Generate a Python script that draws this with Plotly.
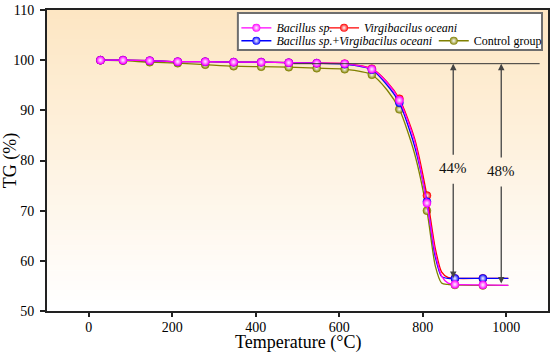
import plotly.graph_objects as go

# ---------------- data ----------------
curve_T = [28, 82, 146, 213, 279, 347, 413, 479, 546, 613, 678, 715, 744, 780, 810,
           830, 845, 860, 877, 944, 1005]
marker_T = [28, 82, 146, 213, 279, 347, 413, 479, 546, 613, 678, 744, 810, 877, 944]

bacillus = [100.0, 100.0, 99.9, 99.7, 99.7, 99.6, 99.6, 99.5, 99.4, 99.3, 98.2, 95.5, 92.0,
            84.0, 71.5, 61.5, 57.0, 55.6, 55.3, 55.2, 55.1]
virgi = [100.0, 100.0, 99.9, 99.7, 99.7, 99.6, 99.6, 99.5, 99.4, 99.3, 98.3, 95.6, 92.3,
         84.5, 73.0, 62.5, 57.8, 56.7, 56.5, 56.5, 56.5]
combo = [100.0, 100.0, 99.9, 99.7, 99.7, 99.6, 99.6, 99.5, 99.4, 99.2, 98.1, 95.0, 91.5,
         83.0, 71.8, 60.8, 56.9, 56.5, 56.5, 56.5, 56.5]
control = [100.0, 99.9, 99.6, 99.4, 99.1, 98.8, 98.7, 98.6, 98.4, 98.2, 97.1, 94.0, 90.2,
           81.5, 70.0, 59.0, 55.6, 55.3, 55.2, 55.1, 55.1]

series_names = ["<i>Bacillus sp.</i>", "<i>Virgibacilus oceani</i>",
                "<i>Bacillus sp.</i>+<i>Virgibacilus oceani</i>", "Control group"]
series_colors = ["#FF00FF", "#FF0000", "#0000FF", "#808000"]
series_values = [bacillus, virgi, combo, control]

ref_level = 99.3
loss_labels = ["44%", "48%"]
loss_T = [873, 988]
loss_bottom = [56.6, 55.5]

x_ticks = [0, 200, 400, 600, 800, 1000]
y_ticks = [50, 60, 70, 80, 90, 100, 110]
x_title = "Temperature (°C)"
y_title = "TG (%)"

FONT = "Liberation Serif"

fig = go.Figure()

# background gradient (top light orange -> white)
n = 60
top_c = (253, 230, 195)
for i in range(n):
    f = i / (n - 1)
    c = tuple(int(round(top_c[k] + (255 - top_c[k]) * f)) for k in range(3))
    fig.add_shape(type="rect", xref="x domain", yref="y domain",
                  x0=0, x1=1, y0=1 - (i + 1) / n, y1=1 - i / n + 0.002,
                  fillcolor="rgb(%d,%d,%d)" % c, line_width=0, layer="below")

idx = [curve_T.index(t) for t in marker_T]
draw_order = [3, 1, 2, 0]
legend_ids = ["legend", "legend2", "legend3", "legend4"]
for i in draw_order:
    ys = series_values[i]
    col = series_colors[i]
    fig.add_trace(go.Scatter(
        x=curve_T, y=ys, mode="lines", line=dict(color=col, width=1.3, shape="spline", smoothing=0.7),
        showlegend=False, hoverinfo="skip"))
    fig.add_trace(go.Scatter(
        x=marker_T, y=[ys[j] for j in idx], mode="markers",
        marker=dict(color=col, size=8, line=dict(color=col, width=0.5),
                    gradient=dict(type="radial", color="rgba(255,255,255,0.95)")),
        showlegend=False))
for i in range(4):
    col = series_colors[i]
    fig.add_trace(go.Scatter(
        x=[None], y=[None], mode="lines+markers", name=series_names[i],
        line=dict(color=col, width=1.3),
        marker=dict(color=col, size=8, gradient=dict(type="radial", color="rgba(255,255,255,0.95)")),
        legend=legend_ids[i]))

# reference horizontal line
fig.add_shape(type="line", x0=490, x1=1080, y0=ref_level, y1=ref_level,
              line=dict(color="#333333", width=1))

# arrows with labels
for lab, t, yb in zip(loss_labels, loss_T, loss_bottom):
    mid = (ref_level + yb) / 2 + 0.5
    fig.add_annotation(x=t, y=ref_level, ax=t, ay=mid + 2.4, xref="x", yref="y",
                       axref="x", ayref="y", text="", showarrow=True, arrowhead=2,
                       arrowsize=1, arrowwidth=1.3, arrowcolor="#444444")
    fig.add_annotation(x=t, y=yb, ax=t, ay=mid - 2.8, xref="x", yref="y",
                       axref="x", ayref="y", text="", showarrow=True, arrowhead=2,
                       arrowsize=1, arrowwidth=1.3, arrowcolor="#444444")
    fig.add_annotation(x=t, y=mid, text=lab, showarrow=False,
                       font=dict(family=FONT, size=15, color="#111111"))

# x axis title
fig.add_annotation(text=x_title, xref="x domain", yref="y domain", x=0.5, y=0,
                   yanchor="middle", yshift=-31, showarrow=False,
                   font=dict(family=FONT, size=18, color="black"))

# legend box
fig.add_shape(type="rect", xref="paper", yref="paper", x0=0.381, x1=0.988, y0=0.867, y1=0.990,
              fillcolor="white", line=dict(color="#6e6e6e", width=2), layer="above")

leg_common = dict(orientation="h", bgcolor="rgba(0,0,0,0)", borderwidth=0,
                  font=dict(family=FONT, size=12, color="black"), xanchor="left",
                  yanchor="top", itemwidth=30, tracegroupgap=0)
fig.update_layout(
    width=550, height=360,
    margin=dict(l=47, r=2, t=10, b=49, autoexpand=False),
    paper_bgcolor="white", plot_bgcolor="white",
    legend=dict(x=0.378, y=0.989, **leg_common),
    legend2=dict(x=0.553, y=0.989, **leg_common),
    legend3=dict(x=0.378, y=0.946, **leg_common),
    legend4=dict(x=0.772, y=0.946, **leg_common),
    font=dict(family=FONT, color="black"),
)
fig.update_xaxes(range=[-100, 1100], tickvals=x_ticks, ticks="outside", ticklen=4, tickwidth=1.5,
                 tickcolor="#222", showline=True, linewidth=2, linecolor="#222", mirror=True,
                 showgrid=False, zeroline=False, tickfont=dict(family=FONT, size=14),
                 automargin=False, ticklabelstandoff=-2)
fig.update_yaxes(range=[50, 110], tickvals=y_ticks, ticks="outside", ticklen=5, tickwidth=1.5,
                 tickcolor="#222", showline=True, linewidth=2, linecolor="#222", mirror=True,
                 showgrid=False, zeroline=False, tickfont=dict(family=FONT, size=14),
                 automargin=False, ticklabelstandoff=3,
                 title=dict(text=y_title, font=dict(family=FONT, size=18)))

fig.write_html("out.html", config={"displayModeBar": False},
               post_script="document.body.style.margin='0px';")
